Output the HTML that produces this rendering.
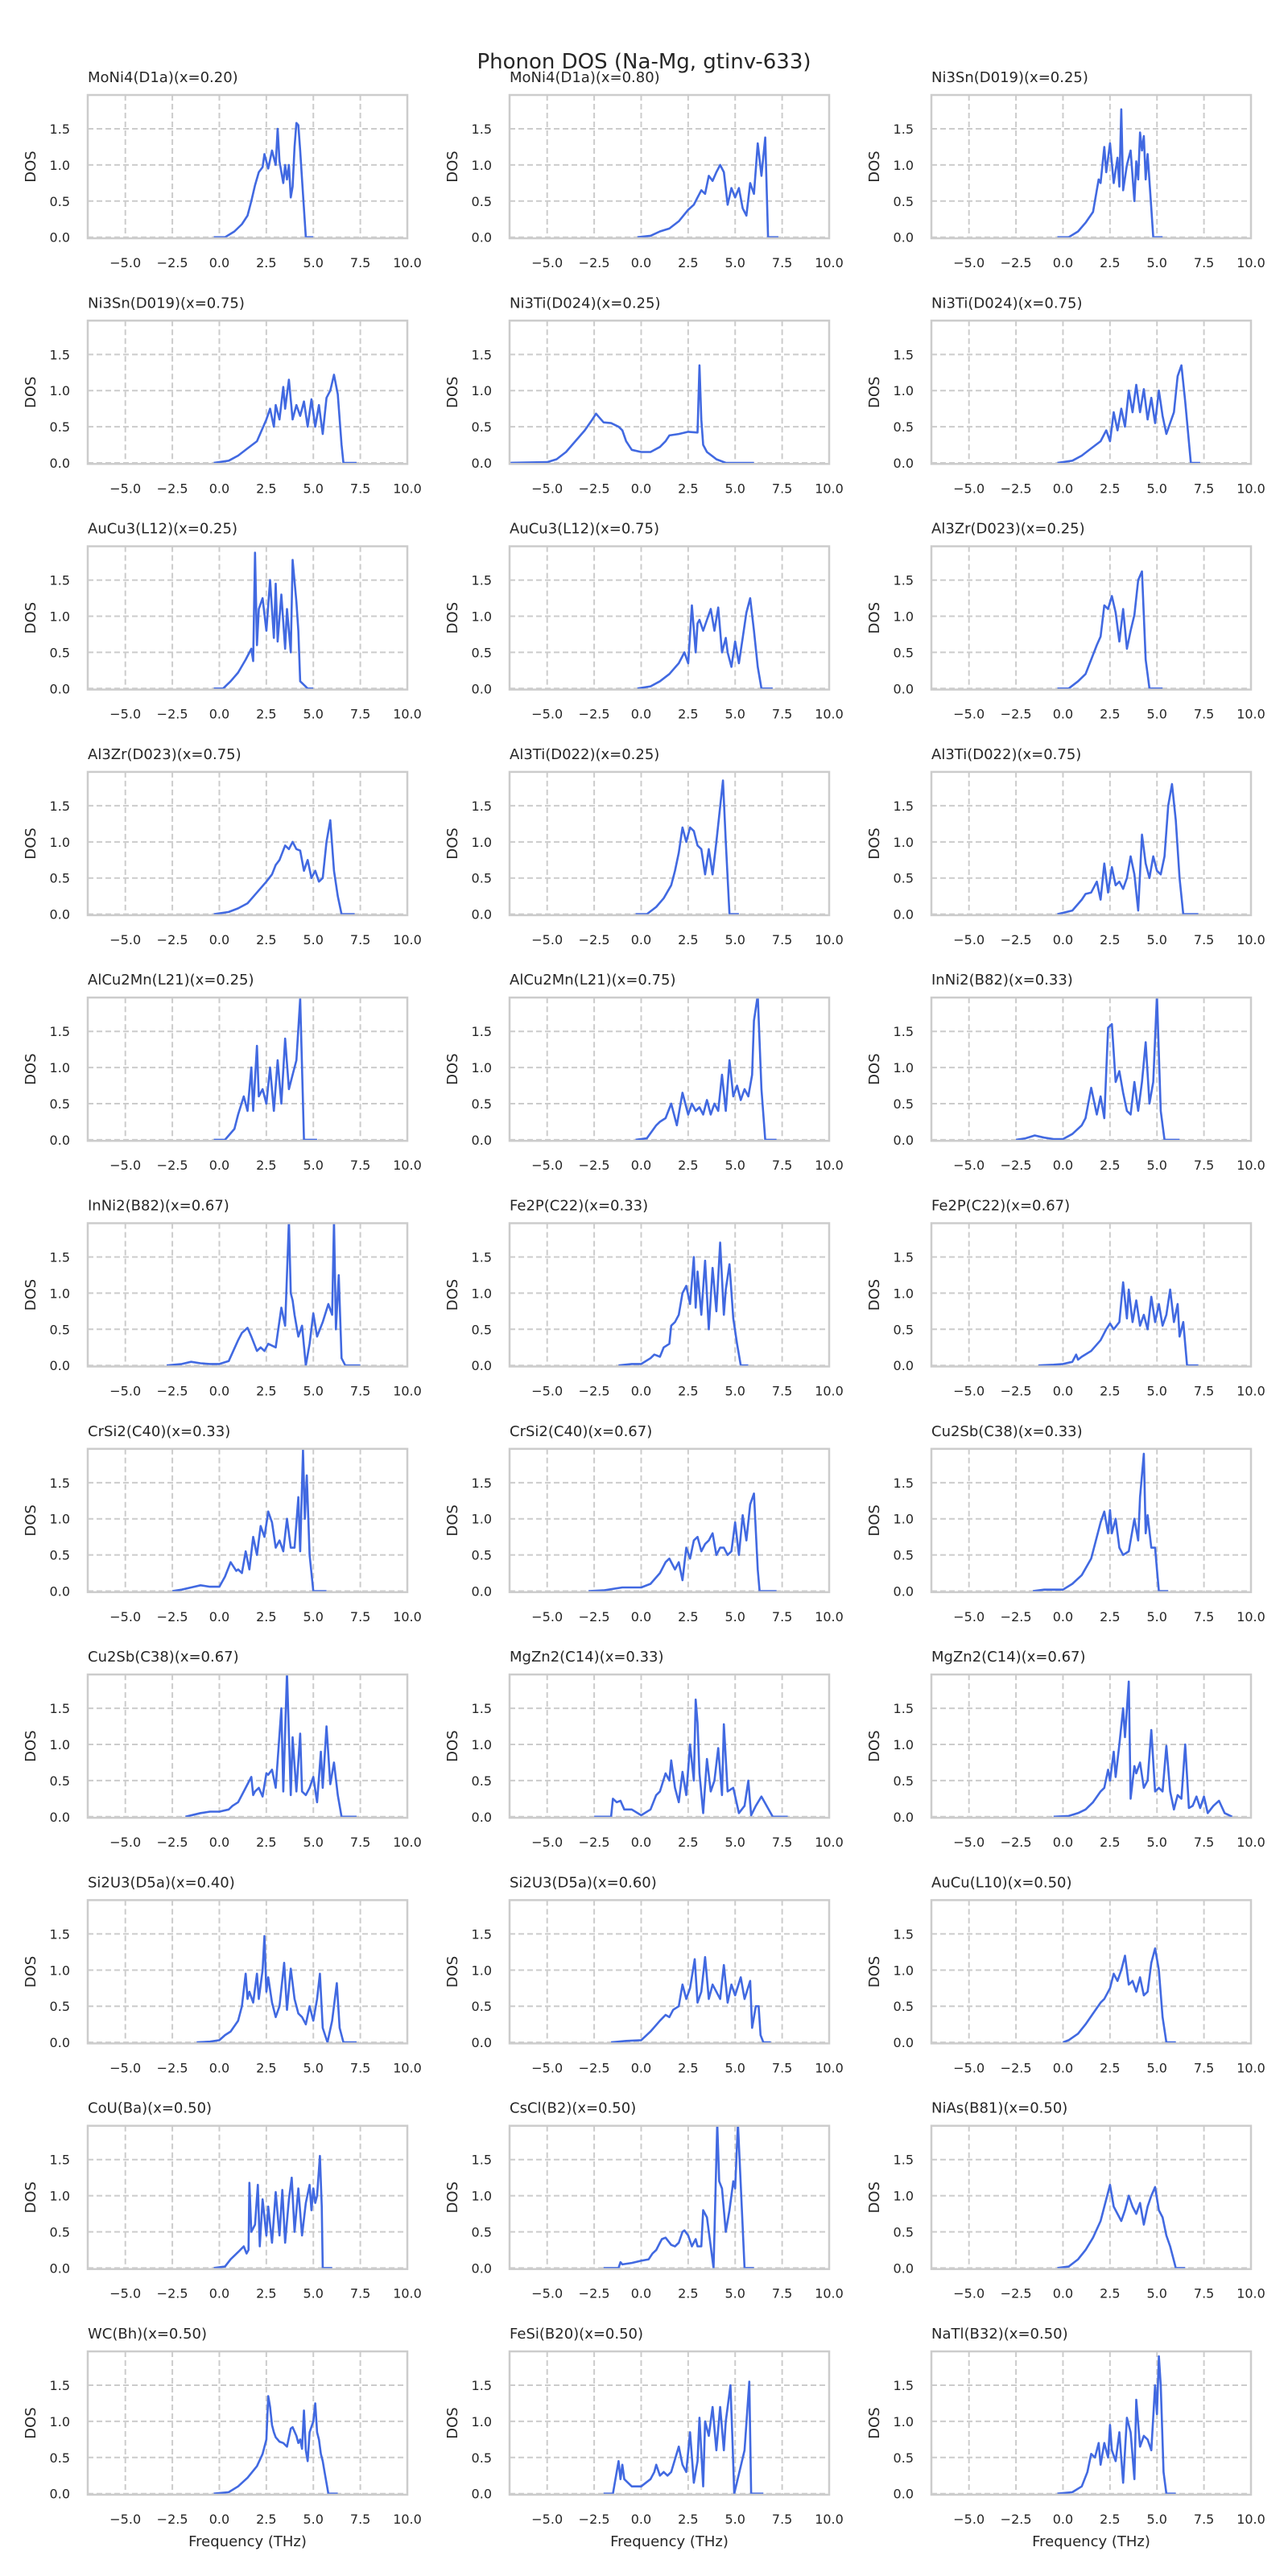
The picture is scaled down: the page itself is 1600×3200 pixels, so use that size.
<!DOCTYPE html>
<html><head><meta charset="utf-8">
<style>
html,body{margin:0;padding:0;background:#fff;}
svg{display:block;font-family:"DejaVu Sans","Liberation Sans",sans-serif;}
</style></head>
<body>
<svg id="fig" width="1600" height="3200" viewBox="0 0 1600 3200" xmlns="http://www.w3.org/2000/svg">
<rect x="0" y="0" width="1600" height="3200" fill="#fff"/>
<text x="800" y="85" text-anchor="middle" font-size="26" fill="#262626">Phonon DOS (Na-Mg, gtinv-633)</text>
</svg>
<script>
const titles = ["MoNi4(D1a)(x=0.20)","MoNi4(D1a)(x=0.80)","Ni3Sn(D019)(x=0.25)","Ni3Sn(D019)(x=0.75)","Ni3Ti(D024)(x=0.25)","Ni3Ti(D024)(x=0.75)","AuCu3(L12)(x=0.25)","AuCu3(L12)(x=0.75)","Al3Zr(D023)(x=0.25)","Al3Zr(D023)(x=0.75)","Al3Ti(D022)(x=0.25)","Al3Ti(D022)(x=0.75)","AlCu2Mn(L21)(x=0.25)","AlCu2Mn(L21)(x=0.75)","InNi2(B82)(x=0.33)","InNi2(B82)(x=0.67)","Fe2P(C22)(x=0.33)","Fe2P(C22)(x=0.67)","CrSi2(C40)(x=0.33)","CrSi2(C40)(x=0.67)","Cu2Sb(C38)(x=0.33)","Cu2Sb(C38)(x=0.67)","MgZn2(C14)(x=0.33)","MgZn2(C14)(x=0.67)","Si2U3(D5a)(x=0.40)","Si2U3(D5a)(x=0.60)","AuCu(L10)(x=0.50)","CoU(Ba)(x=0.50)","CsCl(B2)(x=0.50)","NiAs(B81)(x=0.50)","WC(Bh)(x=0.50)","FeSi(B20)(x=0.50)","NaTl(B32)(x=0.50)"];
const xTicks = [-5, -2.5, 0, 2.5, 5, 7.5, 10];
const xTickLabels = ["\u22125.0","\u22122.5","0.0","2.5","5.0","7.5","10.0"];
const yTicks = [0, 0.5, 1.0, 1.5];
const yTickLabels = ["0.0","0.5","1.0","1.5"];
const xDomain = [-7, 10];
const yDomain = [-0.0145, 1.968];
const freqs = [
[-0.3,0.3,0.8,1.2,1.5,1.7,1.9,2.1,2.3,2.4,2.6,2.8,3.0,3.1,3.2,3.4,3.5,3.6,3.7,3.8,3.9,4.0,4.1,4.2,4.3,4.4,4.6,5.0],
[-0.2,0.5,1.0,1.5,2.0,2.5,2.8,3.0,3.2,3.4,3.6,3.8,4.0,4.2,4.4,4.6,4.8,5.0,5.2,5.4,5.6,5.8,6.0,6.2,6.4,6.6,6.75,7.3],
[-0.3,0.3,0.8,1.2,1.6,1.9,2.0,2.2,2.3,2.5,2.7,2.9,3.0,3.1,3.2,3.4,3.6,3.8,3.9,4.0,4.1,4.2,4.3,4.4,4.5,4.7,4.8,5.3],
[-0.3,0.5,1.0,1.5,2.0,2.5,2.7,2.9,3.0,3.2,3.4,3.5,3.7,3.9,4.1,4.3,4.5,4.7,4.9,5.1,5.3,5.5,5.7,5.9,6.1,6.3,6.5,6.6,7.3],
[-7,-5,-4.5,-4,-3.5,-3,-2.6,-2.4,-2.2,-2,-1.6,-1.2,-1,-0.8,-0.5,0,0.5,1,1.3,1.5,2,2.5,3,3.1,3.2,3.3,3.5,4,4.5,6],
[-0.3,0.5,1.0,1.5,2.0,2.3,2.5,2.7,2.9,3.1,3.3,3.5,3.7,3.9,4.1,4.3,4.5,4.7,4.9,5.1,5.3,5.5,5.7,5.9,6.1,6.3,6.5,6.8,7.3],
[-0.3,0.2,0.6,1.0,1.4,1.7,1.8,1.9,2.0,2.1,2.3,2.5,2.7,2.9,3.0,3.1,3.3,3.5,3.6,3.8,3.9,4.1,4.2,4.3,4.5,4.7,5.0],
[-0.2,0.5,1.0,1.5,2.0,2.3,2.5,2.7,2.9,3.0,3.1,3.3,3.5,3.7,3.9,4.1,4.3,4.5,4.6,4.8,5.0,5.2,5.4,5.6,5.8,6.0,6.2,6.4,7.0],
[-0.3,0.3,0.8,1.2,1.5,1.8,2.0,2.2,2.4,2.6,2.8,3.0,3.2,3.4,3.6,3.8,4.0,4.2,4.4,4.6,4.8,5.3],
[-0.3,0.5,1.0,1.5,2.0,2.5,2.8,3.0,3.2,3.5,3.7,3.9,4.1,4.3,4.5,4.7,4.9,5.1,5.3,5.5,5.7,5.9,6.1,6.3,6.5,7.2],
[-0.3,0.3,0.8,1.2,1.6,1.8,2.0,2.2,2.4,2.6,2.8,3.0,3.2,3.4,3.6,3.8,4.0,4.35,4.5,4.7,5.2],
[-0.3,0.5,1.0,1.2,1.5,1.8,2.0,2.2,2.4,2.6,2.8,3.0,3.2,3.4,3.6,3.8,4.0,4.2,4.4,4.6,4.8,5.0,5.2,5.4,5.6,5.8,6.0,6.2,6.4,6.6,7.2],
[-0.3,0.3,0.8,1.0,1.3,1.5,1.7,1.8,2.0,2.1,2.3,2.5,2.7,2.9,3.1,3.3,3.5,3.7,3.9,4.1,4.3,4.5,4.7,5.2],
[-0.3,0.3,0.8,1.0,1.3,1.6,1.9,2.2,2.5,2.7,2.9,3.1,3.3,3.5,3.7,3.9,4.1,4.3,4.5,4.7,4.9,5.1,5.3,5.5,5.7,5.9,6.0,6.2,6.4,6.6,7.2],
[-2.5,-2,-1.5,-1,-0.5,0,0.5,1.0,1.2,1.5,1.8,2.0,2.2,2.4,2.6,2.8,3.0,3.2,3.4,3.6,3.8,4.0,4.2,4.4,4.6,4.8,5.0,5.2,5.4,5.6,6.2],
[-2.8,-2,-1.5,-1,-0.5,0,0.5,1.0,1.2,1.5,1.7,2.0,2.2,2.4,2.6,3.0,3.3,3.5,3.7,3.8,3.9,4.0,4.2,4.4,4.6,4.8,5.0,5.2,5.5,5.8,6.0,6.1,6.2,6.35,6.5,6.7,7.5],
[-1.2,-0.5,0,0.5,0.7,1.0,1.2,1.5,1.6,1.8,2.0,2.2,2.4,2.6,2.8,2.9,3.0,3.2,3.4,3.6,3.8,4.0,4.2,4.4,4.5,4.7,4.9,5.1,5.3,5.7],
[-1.3,-0.5,0,0.5,0.7,0.8,1.0,1.5,2.0,2.3,2.5,2.7,3.0,3.2,3.4,3.5,3.7,3.9,4.1,4.3,4.5,4.7,4.9,5.1,5.3,5.5,5.7,5.9,6.1,6.2,6.4,6.6,7.2],
[-2.5,-2,-1.5,-1,-0.5,0,0.3,0.6,0.9,1.0,1.2,1.4,1.6,1.8,2.0,2.2,2.4,2.6,2.8,3.0,3.2,3.4,3.6,3.8,4.0,4.2,4.3,4.45,4.55,4.65,4.8,5.0,5.7],
[-2.8,-2,-1.5,-1,-0.5,0,0.5,1.0,1.3,1.5,1.8,2.0,2.2,2.4,2.6,2.8,3.0,3.2,3.4,3.6,3.8,4.0,4.2,4.4,4.6,4.8,5.0,5.2,5.4,5.6,5.8,6.0,6.2,6.3,7.2],
[-1.6,-1,-0.5,0,0.5,1.0,1.5,2.0,2.2,2.4,2.5,2.6,2.8,3.0,3.2,3.5,3.8,4.0,4.1,4.3,4.4,4.5,4.7,4.9,5.0,5.1,5.6],
[-1.8,-1,-0.5,0,0.5,0.7,1.0,1.2,1.5,1.7,1.8,1.9,2.1,2.3,2.5,2.6,2.8,3.0,3.3,3.4,3.6,3.8,3.9,4.1,4.3,4.4,4.6,4.8,5.0,5.2,5.4,5.5,5.7,5.9,6.1,6.3,6.5,6.7,7.3],
[-2.5,-1.6,-1.5,-1.3,-1.1,-0.9,-0.5,0,0.5,0.8,1.0,1.3,1.5,1.6,1.8,2.0,2.2,2.4,2.6,2.8,2.9,3.0,3.1,3.3,3.5,3.7,3.9,4.1,4.3,4.4,4.6,4.9,5.2,5.5,5.7,5.85,6.1,6.4,7.0,7.8],
[-0.5,0.3,0.8,1.2,1.6,2.0,2.2,2.4,2.5,2.7,2.8,3.0,3.2,3.3,3.5,3.6,3.8,3.9,4.1,4.3,4.5,4.7,4.9,5.1,5.3,5.5,5.7,5.9,6.1,6.3,6.5,6.7,6.9,7.1,7.3,7.5,7.7,8.0,8.3,8.6,9.0],
[-1.2,-0.5,0,0.3,0.6,1.0,1.2,1.4,1.5,1.6,1.8,2.0,2.1,2.3,2.4,2.5,2.6,2.8,3.0,3.2,3.45,3.6,3.8,4.0,4.2,4.4,4.6,4.8,5.0,5.2,5.35,5.5,5.75,6.0,6.25,6.4,6.6,7.3],
[-1.6,-0.8,0,0.5,1.0,1.3,1.5,1.7,2.0,2.2,2.4,2.6,2.85,3.0,3.2,3.4,3.6,3.8,4.0,4.2,4.4,4.6,4.8,5.0,5.3,5.5,5.8,5.9,6.1,6.25,6.35,6.5,6.9],
[0,0.3,0.8,1.2,1.6,2.0,2.2,2.5,2.7,2.9,3.1,3.3,3.5,3.7,3.9,4.1,4.3,4.5,4.7,4.9,5.1,5.3,5.5,5.7,6.0],
[-0.3,0.3,0.6,1.0,1.3,1.45,1.55,1.6,1.7,1.9,2.05,2.15,2.3,2.5,2.6,2.8,3.0,3.2,3.35,3.5,3.7,3.85,4.0,4.2,4.4,4.6,4.8,4.9,5.0,5.1,5.2,5.35,5.45,5.5,6.0],
[-2.0,-1.2,-1.1,-1.0,-0.5,0,0.4,0.6,0.8,1.0,1.1,1.3,1.6,1.8,2.0,2.2,2.3,2.5,2.7,2.9,3.0,3.2,3.3,3.5,3.85,4.05,4.15,4.3,4.5,4.7,4.9,5.0,5.15,5.5,6.0],
[-0.3,0.3,0.8,1.2,1.6,2.0,2.3,2.5,2.7,2.9,3.1,3.3,3.5,3.7,3.9,4.1,4.3,4.5,4.7,4.9,5.1,5.3,5.5,5.7,5.9,6.0,6.5],
[-0.3,0.5,1.0,1.5,2.0,2.3,2.5,2.6,2.7,2.8,2.9,3.0,3.2,3.4,3.6,3.8,3.9,4.1,4.2,4.3,4.4,4.5,4.6,4.7,4.8,5.0,5.1,5.2,5.3,5.4,5.5,5.6,5.8,6.3],
[-2.0,-1.5,-1.2,-1.1,-1.0,-0.9,-0.7,-0.5,0,0.5,0.7,0.8,1.0,1.2,1.4,1.6,2.0,2.2,2.4,2.6,2.8,3.0,3.1,3.3,3.4,3.6,3.8,4.0,4.2,4.4,4.5,4.75,4.85,4.95,5.5,5.75,5.85,6.5],
[-0.3,0.5,1.0,1.3,1.5,1.7,1.8,1.9,2.0,2.2,2.4,2.5,2.6,2.8,3.0,3.2,3.4,3.6,3.8,3.9,4.1,4.3,4.5,4.7,4.9,5.0,5.1,5.2,5.35,5.5,6.0]
];
const dos = [
[0,0,0.08,0.18,0.3,0.5,0.72,0.9,0.97,1.15,0.95,1.2,1.0,1.5,1.05,0.75,1.0,0.8,1.0,0.55,0.7,1.25,1.58,1.55,1.2,0.8,0,0],
[0,0.02,0.08,0.12,0.22,0.38,0.45,0.55,0.65,0.6,0.85,0.78,0.9,1.0,0.9,0.45,0.68,0.55,0.68,0.4,0.3,0.75,0.6,1.3,0.85,1.38,0,0],
[0,0,0.08,0.2,0.35,0.8,0.75,1.25,0.9,1.3,0.75,1.1,0.7,1.77,0.65,1.0,1.2,0.5,1.05,0.8,1.45,1.2,1.4,0.8,1.15,0.4,0,0],
[0,0.03,0.1,0.2,0.3,0.6,0.75,0.5,0.8,0.6,1.05,0.75,1.15,0.6,0.8,0.65,0.85,0.5,0.88,0.5,0.8,0.4,0.9,1.0,1.22,0.95,0.25,0,0],
[0,0.01,0.05,0.15,0.3,0.45,0.6,0.68,0.62,0.56,0.55,0.5,0.45,0.3,0.18,0.15,0.15,0.22,0.3,0.38,0.4,0.43,0.42,1.35,0.6,0.25,0.15,0.05,0,0],
[0,0.03,0.1,0.2,0.3,0.45,0.3,0.7,0.45,0.75,0.5,1.0,0.7,1.08,0.7,1.02,0.6,0.9,0.55,1.0,0.65,0.4,0.55,0.7,1.2,1.35,0.85,0,0],
[0,0,0.1,0.22,0.4,0.55,0.38,1.88,0.6,1.1,1.25,0.8,1.5,0.7,1.45,0.65,1.3,0.55,1.1,0.5,1.78,1.2,0.8,0.1,0.05,0,0],
[0,0.03,0.1,0.2,0.35,0.5,0.35,1.15,0.5,0.9,0.95,0.8,0.95,1.1,0.8,1.12,0.5,0.7,0.5,0.3,0.65,0.35,0.7,1.05,1.25,0.8,0.3,0,0],
[0,0,0.1,0.2,0.4,0.6,0.72,1.15,1.1,1.28,1.05,0.65,1.1,0.55,0.8,1.02,1.5,1.62,0.4,0,0,0],
[0,0.03,0.08,0.15,0.3,0.45,0.55,0.68,0.75,0.95,0.9,1.0,0.9,0.88,0.6,0.75,0.5,0.6,0.45,0.5,1.0,1.3,0.6,0.25,0,0],
[0,0,0.1,0.22,0.4,0.6,0.85,1.2,1.0,1.2,1.15,0.95,0.9,0.55,0.9,0.55,1.0,1.85,1.0,0,0],
[0,0.05,0.2,0.28,0.3,0.45,0.2,0.7,0.3,0.65,0.4,0.45,0.35,0.5,0.8,0.55,0.05,1.1,0.7,0.5,0.8,0.6,0.55,0.8,1.5,1.8,1.3,0.5,0,0,0],
[0,0,0.15,0.35,0.6,0.4,1.0,0.4,1.3,0.6,0.7,0.5,1.0,0.4,1.1,0.5,1.4,0.7,0.9,1.1,1.95,0,0,0],
[0,0.02,0.2,0.25,0.3,0.5,0.2,0.65,0.35,0.5,0.4,0.45,0.35,0.55,0.35,0.5,0.4,0.9,0.4,1.1,0.6,0.75,0.55,0.7,0.6,0.9,1.65,2.0,0.7,0,0],
[0,0.02,0.06,0.03,0.01,0.01,0.08,0.2,0.3,0.72,0.35,0.6,0.3,1.55,1.6,0.8,0.95,0.65,0.4,0.35,0.8,0.4,0.8,1.35,0.5,0.8,2.0,0.4,0,0,0],
[0,0.02,0.05,0.03,0.02,0.02,0.06,0.35,0.45,0.52,0.4,0.2,0.25,0.2,0.3,0.25,0.8,0.55,2.0,1.0,0.9,0.7,0.4,0.55,0,0.3,0.72,0.4,0.6,0.85,0.7,2.0,0.5,1.25,0.1,0,0],
[0,0.02,0.02,0.1,0.15,0.12,0.25,0.3,0.55,0.6,0.7,1.0,1.1,0.85,1.5,0.8,1.3,0.7,1.45,0.5,1.35,0.75,1.7,0.7,1.05,1.4,0.65,0.3,0,0],
[0,0.01,0.02,0.05,0.15,0.08,0.12,0.2,0.35,0.5,0.58,0.5,0.6,1.15,0.65,1.05,0.6,0.9,0.55,0.7,0.5,0.95,0.6,0.85,0.55,0.7,1.05,0.6,0.85,0.4,0.6,0,0],
[0,0.02,0.05,0.08,0.06,0.06,0.2,0.4,0.28,0.3,0.25,0.55,0.3,0.75,0.5,0.9,0.75,1.1,0.95,0.6,0.7,0.55,1.0,0.6,0.6,1.3,0.55,1.95,1.0,1.6,0.5,0,0],
[0,0.01,0.03,0.05,0.05,0.05,0.1,0.25,0.4,0.45,0.3,0.4,0.15,0.6,0.45,0.7,0.75,0.55,0.65,0.7,0.8,0.5,0.6,0.6,0.5,0.55,0.95,0.5,1.05,0.7,1.2,1.35,0.3,0,0],
[0,0.02,0.02,0.02,0.1,0.22,0.45,0.95,1.1,0.8,1.12,0.8,1.0,0.6,0.5,0.55,1.0,0.7,1.3,1.9,0.8,1.05,0.6,0.6,0.3,0,0],
[0,0.05,0.07,0.07,0.1,0.15,0.2,0.3,0.45,0.55,0.3,0.35,0.4,0.28,0.6,0.58,0.65,0.4,1.5,0.35,2.0,0.3,1.1,0.35,1.15,0.35,0.3,0.4,0.55,0.2,0.9,0.4,1.25,0.45,0.75,0.3,0,0,0],
[0,0,0.25,0.2,0.22,0.1,0.1,0.02,0.1,0.3,0.35,0.6,0.5,0.78,0.4,0.2,0.62,0.3,1.0,0.5,1.62,1.3,0.6,0.05,0.8,0.35,0.5,0.95,0.3,1.28,0.35,0.4,0.05,0.15,0.5,0.02,0.15,0.28,0,0],
[0,0.01,0.05,0.1,0.2,0.35,0.4,0.65,0.5,0.9,0.55,1.0,1.5,1.1,1.87,0.25,0.7,0.6,0.75,0.4,0.5,1.2,0.35,0.4,0.35,0.98,0.35,0.1,0.3,0.25,1.0,0.12,0.15,0.28,0.12,0.28,0.05,0.15,0.22,0.05,0],
[0,0.01,0.03,0.1,0.15,0.3,0.5,0.95,0.6,0.7,0.55,0.95,0.6,1.0,1.47,0.7,0.9,0.55,0.35,0.5,1.1,0.45,1.02,0.6,0.4,0.35,0.25,0.5,0.3,0.6,0.95,0.2,0,0.3,0.82,0.2,0,0],
[0,0.02,0.03,0.15,0.3,0.38,0.35,0.45,0.5,0.8,0.6,0.75,1.15,0.55,0.7,1.18,0.6,0.8,0.7,0.6,1.07,0.55,0.8,0.65,0.9,0.6,0.85,0.2,0.5,0.5,0.1,0,0],
[0,0.03,0.12,0.25,0.4,0.55,0.6,0.75,0.95,0.85,1.0,1.2,0.8,0.85,0.7,0.9,0.65,0.7,1.1,1.3,1.0,0.35,0,0,0],
[0,0.02,0.12,0.22,0.3,0.2,0.25,1.18,0.5,0.6,1.15,0.3,0.95,0.45,0.85,0.35,1.05,0.45,1.08,0.35,0.95,1.25,0.5,1.1,0.45,0.9,1.15,0.8,1.1,0.9,1.0,1.55,0.85,0,0],
[0,0,0.08,0.05,0.07,0.1,0.12,0.2,0.25,0.35,0.4,0.42,0.32,0.3,0.35,0.5,0.52,0.45,0.3,0.4,0.3,0.3,0.8,0.7,0,2.0,1.2,1.1,0.5,0.8,1.2,1.1,2.0,0,0],
[0,0.02,0.12,0.25,0.42,0.65,0.95,1.15,0.85,0.75,0.65,0.8,1.0,0.85,0.75,0.9,0.6,0.85,1.0,1.12,0.8,0.7,0.45,0.3,0.1,0,0],
[0,0.02,0.1,0.22,0.38,0.55,0.75,1.35,1.2,0.95,0.85,0.78,0.72,0.7,0.65,0.9,0.92,0.8,0.7,0.75,0.62,1.15,0.6,0.45,0.85,1.0,1.25,0.85,0.75,0.55,0.45,0.3,0,0],
[0,0,0.45,0.2,0.4,0.2,0.15,0.1,0.1,0.2,0.3,0.4,0.25,0.3,0.25,0.3,0.65,0.4,0.3,0.85,0.15,0.45,1.05,0.1,1.0,0.8,1.2,0.6,1.2,0.6,1.0,1.5,0.8,0,0.6,1.55,0,0],
[0,0.02,0.1,0.3,0.55,0.5,0.6,0.7,0.4,0.7,0.5,0.95,0.6,0.45,0.85,0.15,1.05,0.85,0.2,1.3,0.65,0.8,0.75,0.6,1.5,1.1,1.9,1.5,0.3,0,0]
];

const NS = "http://www.w3.org/2000/svg";
const fig = document.getElementById('fig');
const AX_W = 397, AX_H = 178, LEFT0 = 109, TOP0 = 118, COL_PITCH = 524, ROW_PITCH = 280.3;
function mk(tag, attrs, parent) {
  const e = document.createElementNS(NS, tag);
  for (const k in attrs) e.setAttribute(k, attrs[k]);
  parent.appendChild(e);
  return e;
}
const defs = mk('defs', {}, fig);

titles.forEach((title, i) => {
  const col = i % 3, row = Math.floor(i / 3);
  const L = LEFT0 + col * COL_PITCH, T = TOP0 + row * ROW_PITCH;
  const sx = v => L + (v - xDomain[0]) / (xDomain[1] - xDomain[0]) * AX_W;
  const sy = v => T + AX_H - (v - yDomain[0]) / (yDomain[1] - yDomain[0]) * AX_H;

  const g = mk('g', {}, fig);
  
  

  const cp = mk('clipPath', {id: 'clip' + i}, defs);
  mk('rect', {x: L, y: T, width: AX_W, height: AX_H}, cp);

  const grid = mk('g', {stroke: '#cccccc', 'stroke-width': 2, 'stroke-dasharray': '7,4'}, g);
  
  
  xTicks.forEach(v => { mk('line', {x1: sx(v), x2: sx(v), y1: T, y2: T + AX_H}, grid); });
  yTicks.forEach(v => { mk('line', {x1: L, x2: L + AX_W, y1: sy(v), y2: sy(v)}, grid); });

  const f = freqs[i], d = dos[i];
  const n = Math.min(f.length, d.length);
  let pts = [];
  for (let k = 0; k < n; k++) pts.push(sx(f[k]).toFixed(1) + ',' + sy(d[k]).toFixed(1));
  const line = mk('polyline', {points: pts.join(' '), fill: 'none', stroke: '#4169e1', 'stroke-width': 2.6, 'stroke-linejoin': 'round', 'clip-path': 'url(#clip' + i + ')'}, g);
  
  

  const frame = mk('rect', {x: L, y: T, width: AX_W, height: AX_H, fill: 'none', stroke: '#cccccc', 'stroke-width': 2.5}, g);
  
  

  xTicks.forEach((v, k) => {
    const t = mk('text', {x: sx(v), y: T + AX_H + 36, 'text-anchor': 'middle', 'font-size': 16, fill: '#262626'}, g);
    
    
    t.textContent = xTickLabels[k];
  });
  yTicks.forEach((v, k) => {
    const t = mk('text', {x: L - 22, y: sy(v) + 6, 'text-anchor': 'end', 'font-size': 16, fill: '#262626'}, g);
    
    
    t.textContent = yTickLabels[k];
  });

  const tt = mk('text', {x: L, y: T - 16, 'font-size': 18, fill: '#262626'}, g);
  
  
  tt.textContent = title;

  const yx = L - 65, yy = T + AX_H / 2;
  const yl = mk('text', {x: yx, y: yy, 'text-anchor': 'middle', 'font-size': 18, fill: '#262626', transform: 'rotate(-90 ' + yx + ' ' + yy + ')'}, g);
  
  
  yl.textContent = 'DOS';

  if (row === 10) {
    const xl = mk('text', {x: L + AX_W / 2, y: T + AX_H + 64, 'text-anchor': 'middle', 'font-size': 18, fill: '#262626'}, g);
    
    
    xl.textContent = 'Frequency (THz)';
  }
});
</script>
</body></html>
